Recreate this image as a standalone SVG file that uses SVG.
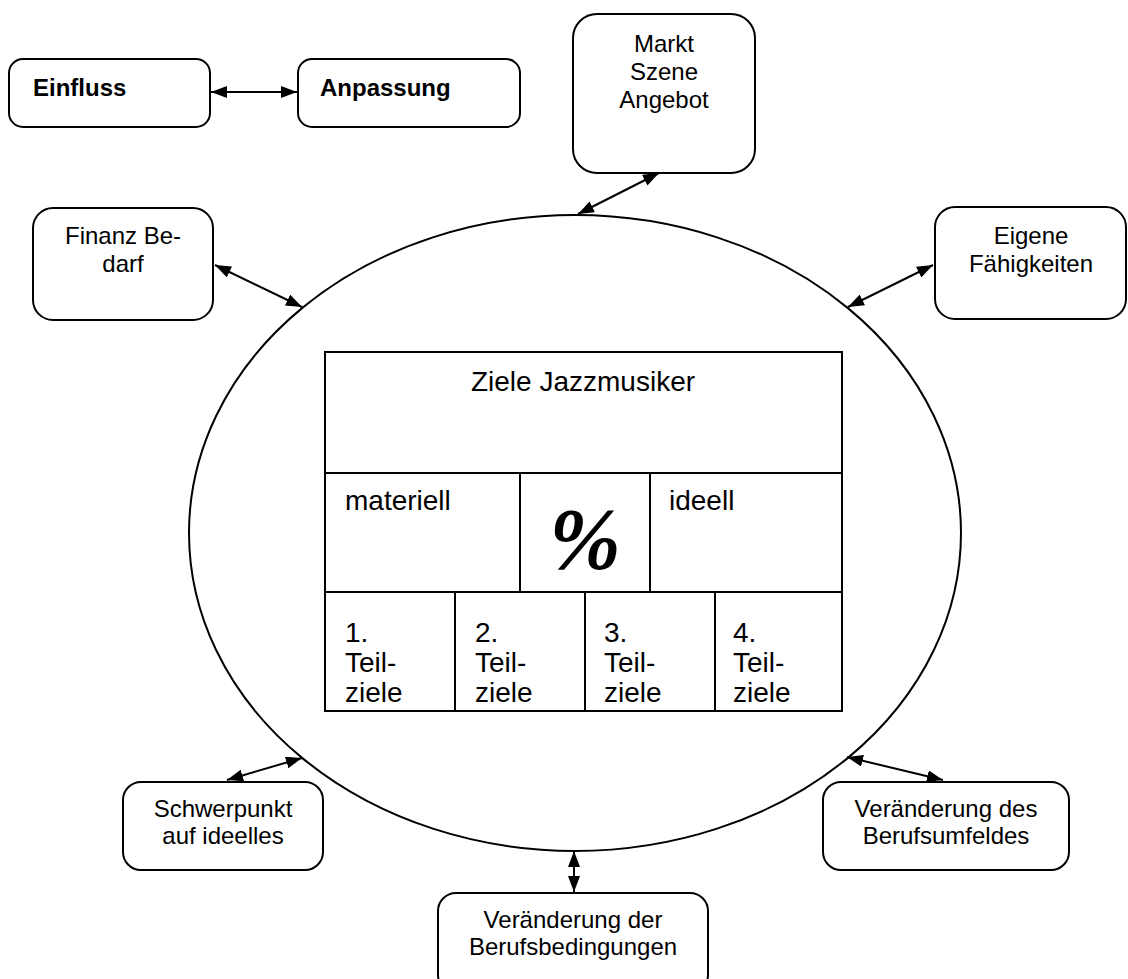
<svg xmlns="http://www.w3.org/2000/svg" width="1128" height="979" viewBox="0 0 1128 979">
  <defs>
    <marker id="ah" viewBox="0 0 16 12" refX="16" refY="6" markerWidth="16" markerHeight="12" markerUnits="userSpaceOnUse" orient="auto-start-reverse">
      <path d="M0,0 L16,6 L0,12 z" fill="#000"/>
    </marker>
    <style>
      .box { fill: #fff; stroke: #000; stroke-width: 2; }
      .cell { fill: none; stroke: #000; stroke-width: 2; }
      .t { font-family: "Liberation Sans", Arial, sans-serif; font-size: 24px; fill: #000; text-anchor: middle; }
      .b { font-family: "Liberation Sans", Arial, sans-serif; font-size: 24px; font-weight: bold; fill: #000; }
      .ct { font-family: "Liberation Sans", Arial, sans-serif; font-size: 28px; fill: #000; }
      .pct { font-family: "Liberation Serif", "Times New Roman", serif; font-size: 86px; font-weight: bold; font-style: italic; fill: #000; text-anchor: middle; }
      .conn { stroke: #000; stroke-width: 2; fill: none; marker-start: url(#ah); marker-end: url(#ah); }
    </style>
  </defs>
  <rect width="1128" height="979" fill="#fff"/>

  <!-- central ellipse -->
  <g id="ellipse">
    <ellipse cx="575" cy="533" rx="386" ry="318" fill="none" stroke="#000" stroke-width="2"/>
  </g>

  <!-- goals table inside the ellipse -->
  <g id="ziele-table">
    <rect class="cell" x="325" y="352" width="517" height="359"/>
    <line class="cell" x1="325" y1="473" x2="842" y2="473"/>
    <line class="cell" x1="325" y1="592" x2="842" y2="592"/>
    <line class="cell" x1="520" y1="473" x2="520" y2="592"/>
    <line class="cell" x1="650" y1="473" x2="650" y2="592"/>
    <line class="cell" x1="455" y1="592" x2="455" y2="711"/>
    <line class="cell" x1="585" y1="592" x2="585" y2="711"/>
    <line class="cell" x1="715" y1="592" x2="715" y2="711"/>
    <text class="ct" x="583" y="391" text-anchor="middle">Ziele Jazzmusiker</text>
    <text class="ct" x="345" y="510">materiell</text>
    <text class="pct" x="585" y="568">%</text>
    <text class="ct" x="669" y="510">ideell</text>
    <text class="ct" x="345" y="642">1.</text>
    <text class="ct" x="345" y="672">Teil-</text>
    <text class="ct" x="345" y="702">ziele</text>
    <text class="ct" x="475" y="642">2.</text>
    <text class="ct" x="475" y="672">Teil-</text>
    <text class="ct" x="475" y="702">ziele</text>
    <text class="ct" x="604" y="642">3.</text>
    <text class="ct" x="604" y="672">Teil-</text>
    <text class="ct" x="604" y="702">ziele</text>
    <text class="ct" x="733" y="642">4.</text>
    <text class="ct" x="733" y="672">Teil-</text>
    <text class="ct" x="733" y="702">ziele</text>
  </g>

  <!-- legend boxes -->
  <g id="einfluss">
    <rect class="box" x="9" y="59" width="201" height="68" rx="14"/>
    <text class="b" x="33" y="96">Einfluss</text>
  </g>
  <g id="anpassung">
    <rect class="box" x="298" y="59" width="222" height="68" rx="14"/>
    <text class="b" x="320" y="96">Anpassung</text>
  </g>

  <!-- influence boxes -->
  <g id="markt">
    <rect class="box" x="573" y="14" width="182" height="159" rx="24"/>
    <text class="t" x="664" y="52">Markt</text>
    <text class="t" x="664" y="80">Szene</text>
    <text class="t" x="664" y="108">Angebot</text>
  </g>
  <g id="finanz">
    <rect class="box" x="33" y="208" width="180" height="112" rx="20"/>
    <text class="t" x="123" y="244">Finanz Be-</text>
    <text class="t" x="123" y="272">darf</text>
  </g>
  <g id="faehigkeiten">
    <rect class="box" x="935" y="207" width="191" height="112" rx="20"/>
    <text class="t" x="1031" y="244">Eigene</text>
    <text class="t" x="1031" y="272">Fähigkeiten</text>
  </g>
  <g id="schwerpunkt">
    <rect class="box" x="123" y="782" width="200" height="88" rx="18"/>
    <text class="t" x="223" y="817">Schwerpunkt</text>
    <text class="t" x="223" y="844">auf ideelles</text>
  </g>
  <g id="berufsumfeld">
    <rect class="box" x="823" y="782" width="246" height="88" rx="18"/>
    <text class="t" x="946" y="817">Veränderung des</text>
    <text class="t" x="946" y="844">Berufsumfeldes</text>
  </g>
  <g id="berufsbedingungen">
    <rect class="box" x="438" y="893" width="270" height="100" rx="18"/>
    <text class="t" x="573" y="928">Veränderung der</text>
    <text class="t" x="573" y="955">Berufsbedingungen</text>
  </g>

  <!-- double-headed connectors -->
  <g id="connectors">
    <line class="conn" x1="211" y1="92" x2="297" y2="92"/>
    <line class="conn" x1="659" y1="173" x2="578" y2="214"/>
    <line class="conn" x1="215" y1="265" x2="302" y2="307"/>
    <line class="conn" x1="933" y1="265" x2="848" y2="307"/>
    <line class="conn" x1="227" y1="780" x2="302" y2="758"/>
    <line class="conn" x1="847" y1="757" x2="943" y2="780"/>
    <line class="conn" x1="574" y1="851" x2="574" y2="892"/>
  </g>
</svg>
